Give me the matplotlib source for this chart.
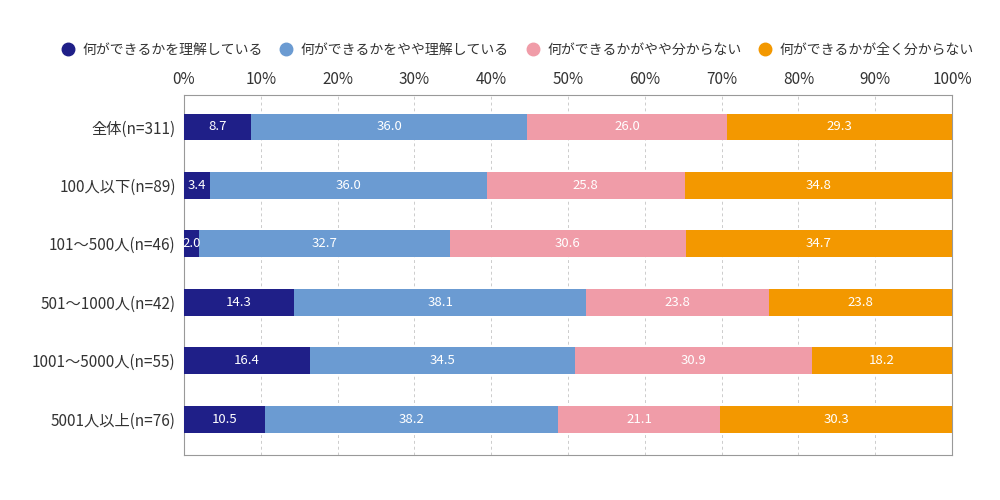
import matplotlib
matplotlib.use("Agg")
import matplotlib.pyplot as plt
from matplotlib.lines import Line2D
import numpy as np

plt.rcParams['font.family'] = ['Noto Sans CJK JP', 'DejaVu Sans']

categories = ["全体(n=311)", "100人以下(n=89)", "101〜500人(n=46)", "501〜1000人(n=42)", "1001〜5000人(n=55)", "5001人以上(n=76)"]
series_names = ["何ができるかを理解している", "何ができるかをやや理解している", "何ができるかがやや分からない", "何ができるかが全く分からない"]
s1 = [8.7, 3.4, 2.0, 14.3, 16.4, 10.5]
s2 = [36.0, 36.0, 32.7, 38.1, 34.5, 38.2]
s3 = [26.0, 25.8, 30.6, 23.8, 30.9, 21.1]
s4 = [29.3, 34.8, 34.7, 23.8, 18.2, 30.3]
colors = ["#1f1f88", "#6b9bd2", "#f09ca8", "#f39800"]
xticks = [0, 10, 20, 30, 40, 50, 60, 70, 80, 90, 100]
xticklabels = [f"{v}%" for v in xticks]

fig = plt.figure(figsize=(10, 5), dpi=100)
ax = fig.add_axes([0.184, 0.09, 0.768, 0.72])

y = np.arange(len(categories))
left = np.zeros(len(categories))
for vals, c in zip([s1, s2, s3, s4], colors):
    vals = np.array(vals)
    ax.barh(y, vals, left=left, height=0.46, color=c, zorder=3)
    for yi, l, v in zip(y, left, vals):
        ax.text(l + v / 2, yi, f"{v:.1f}", ha='center', va='center', color='white', fontsize=9.5, zorder=4)
    left += vals

ax.set_xlim(0, 100)
ax.set_ylim(5.615, -0.547)
ax.set_xticks(xticks)
ax.set_xticklabels(xticklabels, fontsize=11, color='#333333')
ax.xaxis.tick_top()
ax.tick_params(axis='x', length=0, pad=5)
ax.set_yticks(y)
ax.set_yticklabels(categories, fontsize=11, color='#333333')
ax.tick_params(axis='y', length=0, pad=6)
ax.grid(axis='x', linestyle=(0, (3, 3)), color='#cccccc', linewidth=0.7, zorder=0)
for s in ax.spines.values():
    s.set_color('#999999')
    s.set_linewidth(0.8)

handles = [Line2D([0], [0], marker='o', linestyle='', markersize=9, markerfacecolor=c, markeredgecolor=c) for c in colors]
fig.legend(handles, series_names, loc='center', bbox_to_anchor=(0.514, 0.9), ncol=4, frameon=False,
           fontsize=10, handletextpad=0.05, columnspacing=0.7, labelcolor='#333333')

fig.savefig("out.png", dpi=100, facecolor='white')
